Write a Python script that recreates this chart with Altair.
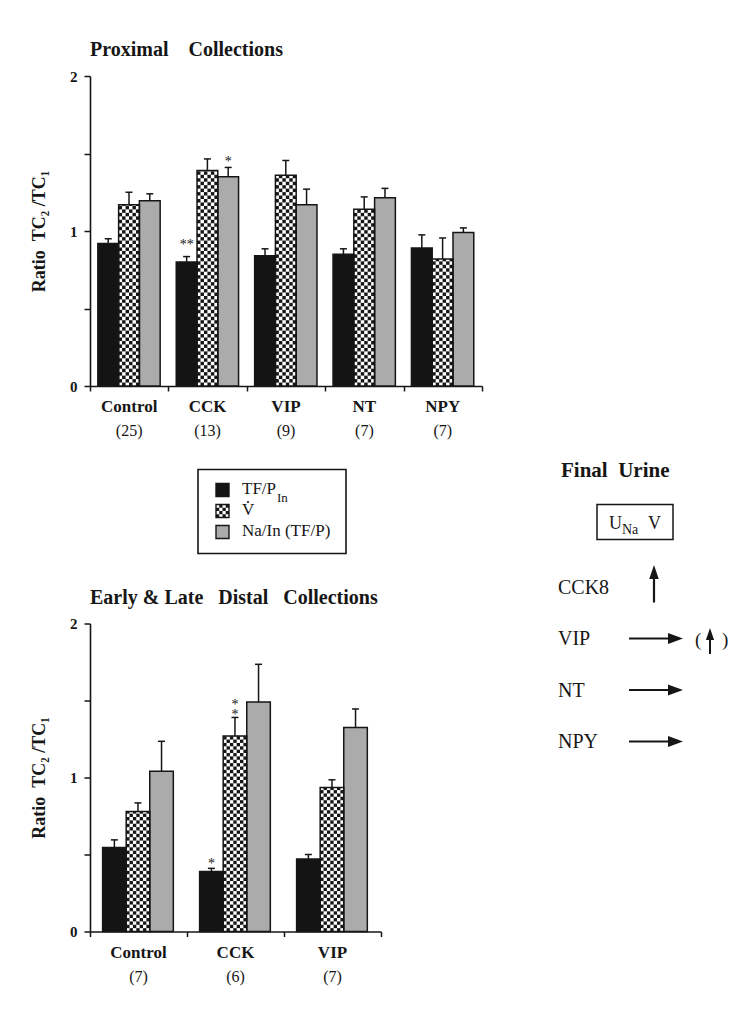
import altair as alt
import pandas as pd
import numpy as np

# ---------------- data ----------------
SERIES = ["TF/P In", "V", "Na/In (TF/P)"]
SERIES_FILL = ["#141414", "#ffffff", "#ababab"]

# Proximal collections (ratio TC2/TC1, mean and SEM)
prox_groups = ["Control", "CCK", "VIP", "NT", "NPY"]
prox_n = ["(25)", "(13)", "(9)", "(7)", "(7)"]
prox_tfp = [0.92, 0.80, 0.84, 0.85, 0.89]
prox_tfp_err = [0.03, 0.035, 0.045, 0.035, 0.085]
prox_v = [1.17, 1.39, 1.36, 1.14, 0.82]
prox_v_err = [0.08, 0.075, 0.095, 0.08, 0.135]
prox_na = [1.195, 1.35, 1.17, 1.215, 0.99]
prox_na_err = [0.045, 0.06, 0.10, 0.06, 0.03]
prox_stars = [("CCK", 0, "**"), ("CCK", 2, "*")]

# Early & late distal collections
dist_groups = ["Control", "CCK", "VIP"]
dist_n = ["(7)", "(6)", "(7)"]
dist_tfp = [0.545, 0.39, 0.47]
dist_tfp_err = [0.05, 0.02, 0.03]
dist_v = [0.78, 1.27, 0.935]
dist_v_err = [0.055, 0.12, 0.05]
dist_na = [1.04, 1.49, 1.325]
dist_na_err = [0.195, 0.245, 0.12]
dist_stars = [("CCK", 0, "*"), ("CCK", 1, "*\n*")]

# Final urine summary
urine_rows = ["CCK8", "VIP", "NT", "NPY"]
urine_effect = ["up", "none", "none", "none"]

# ---------------- style ----------------
SERIF = "Liberation Serif"
INK = "#161616"


def xax(n):
    return alt.Axis(values=list(range(n + 1)), labels=False, title=None, grid=False,
                    tickSize=5, tickWidth=1.5, domainWidth=1.6, domainColor=INK,
                    tickColor=INK)


def yax(h):
    return alt.Axis(values=[0, 0.5, 1, 1.5, 2],
                    labelExpr="datum.value % 1 == 0 ? format(datum.value, 'd') : ''",
                    title="Ratio\u00a0\u00a0TC\u2082 /TC\u2081", grid=False, tickSize=6,
                    tickWidth=1.5, domainWidth=1.6, domainColor=INK, tickColor=INK,
                    labelFont=SERIF, labelFontSize=15, labelFontWeight="bold",
                    labelColor=INK, labelPadding=7,
                    titleFont=SERIF, titleFontSize=18, titleFontWeight="bold",
                    titleColor=INK, titleAngle=270, titleX=-51, titleY=h / 2,
                    titleAlign="center", titleBaseline="middle")


def txt(x, y, text, size, weight="normal", align="left"):
    return alt.Chart(pd.DataFrame({"t": [text]})).mark_text(
        font=SERIF, fontSize=size, fontWeight=weight, align=align,
        baseline="alphabetic", color=INK).encode(
        x=alt.value(x), y=alt.value(y), text="t:N")


def box(x1, x2, y1, y2, fill="none", stroke=INK, sw=1.5):
    return alt.Chart(pd.DataFrame({"k": [0]})).mark_rect(
        fill=fill, stroke=stroke, strokeWidth=sw).encode(
        x=alt.value(x1), x2=alt.value(x2), y=alt.value(y1), y2=alt.value(y2))


def seg(x1, x2, y1, y2, sw=2.2):
    return alt.Chart(pd.DataFrame({"k": [0]})).mark_rule(
        color=INK, strokeWidth=sw).encode(
        x=alt.value(x1), x2=alt.value(x2), y=alt.value(y1), y2=alt.value(y2))


HEAD_RIGHT = "M1,0L-1,-0.72L-1,0.72Z"
HEAD_UP = "M0,-1L-0.68,1L0.68,1Z"


def head(x, y, shape, size):
    return alt.Chart(pd.DataFrame({"k": [0]})).mark_point(
        shape=shape, filled=True, color=INK, opacity=1, size=size, strokeWidth=0).encode(
        x=alt.value(x), y=alt.value(y))


def bar_panel(groups, ns, vals, errs, stars, star_dy, width, height, off, bw, ncol, title):
    ng = len(groups)
    rows = []
    for g, name in enumerate(groups):
        for s in range(3):
            rows.append(dict(g=g, s=s, group=name, value=vals[s][g], err=errs[s][g]))
    df = pd.DataFrame(rows)
    step = width / ng
    capw = 3.5 / step

    xs = alt.Scale(domain=[0, ng], nice=False, zero=False)
    ys = alt.Scale(domain=[0, 2], nice=False)
    XA, YA = xax(ng), yax(height)

    base = alt.Chart(df).transform_calculate(
        x0=f"datum.g + {off} + datum.s * {bw}",
        x1=f"datum.g + {off} + (datum.s + 1) * {bw}",
        xc=f"datum.g + {off} + (datum.s + 0.5) * {bw}",
        cl=f"datum.g + {off} + (datum.s + 0.5) * {bw} - {capw}",
        cr=f"datum.g + {off} + (datum.s + 0.5) * {bw} + {capw}",
        top="datum.value + datum.err",
    )

    fills = base.mark_rect(strokeWidth=0).encode(
        x=alt.X("x0:Q", scale=xs, axis=XA), x2="x1:Q",
        y=alt.Y("value:Q", scale=ys, axis=YA), y2=alt.datum(0),
        fill=alt.Fill("s:O", scale=alt.Scale(domain=[0, 1, 2], range=SERIES_FILL), legend=None),
    )

    # checkerboard texture of the V bars
    cw = bw / ncol
    ch = (cw * step) / (height / 2.0)
    cells = []
    for g in range(ng):
        v = vals[1][g]
        x0 = g + off + bw
        nrow = int(np.ceil(v / ch - 1e-9))
        for r in range(nrow):
            for c in range(ncol):
                if (r + c) % 2 == 1:
                    cells.append(dict(a=x0 + c * cw, b=x0 + (c + 1) * cw,
                                      lo=r * ch, hi=min((r + 1) * ch, v)))
    checker = alt.Chart(pd.DataFrame(cells)).mark_rect(fill=INK, strokeWidth=0).encode(
        x=alt.X("a:Q", scale=xs, axis=XA), x2="b:Q",
        y=alt.Y("lo:Q", scale=ys, axis=YA), y2="hi:Q")

    outline = base.mark_rect(fill="none", stroke=INK, strokeWidth=1.5).encode(
        x=alt.X("x0:Q", scale=xs, axis=XA), x2="x1:Q",
        y=alt.Y("value:Q", scale=ys, axis=YA), y2=alt.datum(0))

    ebar = base.mark_rule(color=INK, strokeWidth=1.5).encode(
        x=alt.X("xc:Q", scale=xs, axis=XA),
        y=alt.Y("value:Q", scale=ys, axis=YA), y2="top:Q")
    ecap = base.mark_rule(color=INK, strokeWidth=1.5).encode(
        x=alt.X("cl:Q", scale=xs, axis=XA), x2="cr:Q",
        y=alt.Y("top:Q", scale=ys, axis=YA))

    layers = [fills, checker, outline, ebar, ecap]

    for (gname, s, t), dy in zip(stars, star_dy):
        g = groups.index(gname)
        sdf = pd.DataFrame({"g": [g], "s": [s], "t": [t],
                            "top": [vals[s][g] + errs[s][g]]})
        layers.append(alt.Chart(sdf).transform_calculate(
            xc=f"datum.g + {off} + (datum.s + 0.5) * {bw}").mark_text(
            font=SERIF, fontSize=14, color=INK, baseline="alphabetic", dy=dy,
            lineBreak="\n", lineHeight=10).encode(
            x=alt.X("xc:Q", scale=xs, axis=XA),
            y=alt.Y("top:Q", scale=ys, axis=YA), text="t:N"))

    lab = pd.DataFrame({"g": list(range(ng)), "name": groups, "n": ns})
    lbase = alt.Chart(lab).transform_calculate(gc="datum.g + 0.5")
    layers.append(lbase.mark_text(font=SERIF, fontSize=17, fontWeight="bold", color=INK,
                                  baseline="alphabetic").encode(
        x=alt.X("gc:Q", scale=xs, axis=XA), y=alt.value(height + 26), text="name:N"))
    layers.append(lbase.mark_text(font=SERIF, fontSize=16, color=INK,
                                  baseline="alphabetic").encode(
        x=alt.X("gc:Q", scale=xs, axis=XA), y=alt.value(height + 50), text="n:N"))
    layers.append(txt(0, -20, title, 20, "bold"))
    return layers


top_layers = bar_panel(
    prox_groups, prox_n,
    [prox_tfp, prox_v, prox_na], [prox_tfp_err, prox_v_err, prox_na_err],
    prox_stars, [-8, -1], 392, 310, 0.1, 0.265, 6,
    "Proximal\u00a0\u00a0\u00a0\u00a0Collections")
top = alt.layer(*top_layers).properties(width=392, height=310)

bot_layers = bar_panel(
    dist_groups, dist_n,
    [dist_tfp, dist_v, dist_na], [dist_tfp_err, dist_v_err, dist_na_err],
    dist_stars, [0, -8], 291, 308, 0.13, 0.243, 7,
    "Early\u00a0&\u00a0Late\u00a0\u00a0\u00a0Distal\u00a0\u00a0\u00a0Collections")

# ---- legend (above the distal panel) ----
extra = [box(108, 256, -154, -70, fill="#ffffff", sw=1.6)]
for i, name in enumerate(SERIES):
    cy = -133.5 + i * 21
    extra.append(box(126, 139, cy - 6.5, cy + 6.5, fill=SERIES_FILL[i], sw=1.4))
    if i == 1:
        k = 13 / 4
        for r in range(4):
            for c in range(4):
                if (r + c) % 2 == 1:
                    extra.append(box(126 + c * k, 126 + (c + 1) * k,
                                     cy - 6.5 + r * k, cy - 6.5 + (r + 1) * k,
                                     fill=INK, stroke=None, sw=0))
    main, sub = (name.split(" ", 1) + [""])[:2] if i == 0 else (name, "")
    extra.append(txt(152, cy + 4, main, 17))
    if sub:
        extra.append(txt(187, cy + 12, sub, 13))
    if i == 1:
        extra.append(alt.Chart(pd.DataFrame({"k": [0]})).mark_point(
            shape="circle", filled=True, color=INK, opacity=1, size=5).encode(
            x=alt.value(158), y=alt.value(cy - 9)))

# ---- final urine summary (right side) ----
extra.append(txt(471, -147, "Final\u00a0\u00a0Urine", 21, "bold"))
extra.append(box(507, 583, -119, -84, sw=1.5))
extra.append(txt(519, -95, "U", 18))
extra.append(txt(532, -90, "Na", 14))
extra.append(txt(558, -95, "V", 18))
for i, (lbl, eff) in enumerate(zip(urine_rows, urine_effect)):
    yb = -30 + i * 51.5
    extra.append(txt(468, yb, lbl, 20))
    if eff == "up":
        extra.append(seg(564, 564, yb + 9, yb - 20))
        extra.append(head(564, yb - 21.5, HEAD_UP, 196))
    else:
        ya = yb - 6.5
        extra.append(seg(539, 586, ya, ya))
        extra.append(head(585.5, ya, HEAD_RIGHT, 225))
        if lbl == "VIP":
            extra.append(txt(605, yb + 1, "(", 19))
            extra.append(txt(632, yb + 1, ")", 19))
            extra.append(seg(620, 620, yb + 9, yb - 10, sw=2))
            extra.append(head(620, yb - 11, HEAD_UP, 144))

bottom = alt.layer(*(bot_layers + extra)).properties(width=291, height=308)

chart = alt.vconcat(top, bottom, spacing=20.5).properties(
    padding={"left": 22, "top": 32, "right": 5, "bottom": 5}
).configure(background="#ffffff", view=alt.ViewConfig(stroke=None))

chart.save("out.html", embed_options={"renderer": "svg", "actions": False})
